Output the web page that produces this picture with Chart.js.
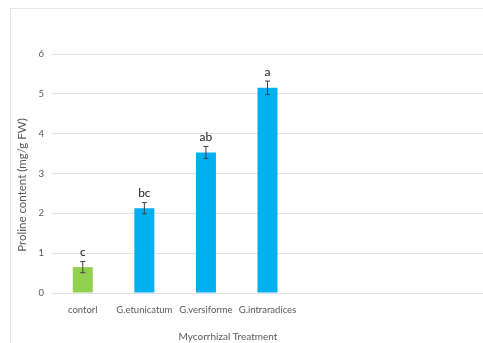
<!DOCTYPE html>
<html>
<head>
<meta charset="utf-8">
<script src="https://cdn.jsdelivr.net/npm/chart.js@4.4.0/dist/chart.umd.min.js"></script>
<style>
  html, body { margin: 0; padding: 0; background: #fff; overflow: hidden; }
  #wrap { position: relative; width: 483px; height: 343px; }
  #frame { position: absolute; left: 10px; top: 8px; width: 490px; height: 350px; border: 1px solid #e6e6e6; box-sizing: border-box; }
</style>
</head>
<body>
<div id="wrap">
  <div id="frame"></div>
  <canvas id="chart" width="483" height="343"></canvas>
</div>
<script>
// treatments (the original axis leaves room for more, kept empty)
const categories = ['contorl', 'G.etunicatum', 'G.versiforme', 'G.intraradices', '', '', ''];
const proline = [0.65, 2.13, 3.53, 5.15, null, null, null];
const errors = [0.14, 0.14, 0.15, 0.17, null, null, null];
const letters = ['c', 'bc', 'ab', 'a', '', '', ''];
const barColors = ['#92D050', '#00B0F0', '#00B0F0', '#00B0F0', '#00B0F0', '#00B0F0', '#00B0F0'];
const yTicks = [0, 1, 2, 3, 4, 5, 6];

const fontFam = 'Lato, "Open Sans", sans-serif';

const extras = {
    id: 'extras',
    afterDatasetsDraw(chart) {
        const { ctx, chartArea } = chart;
        const y = chart.scales.y;
        const meta = chart.getDatasetMeta(0);
        ctx.save();
        meta.data.forEach((bar, i) => {
            if (proline[i] == null) return;
            const top = y.getPixelForValue(proline[i] + errors[i]);
            const bot = y.getPixelForValue(proline[i] - errors[i]);
            ctx.strokeStyle = '#404040';
            ctx.lineWidth = 1;
            ctx.beginPath();
            ctx.moveTo(bar.x, top); ctx.lineTo(bar.x, bot);
            ctx.moveTo(bar.x - 2.5, top); ctx.lineTo(bar.x + 2.5, top);
            ctx.moveTo(bar.x - 2.5, bot); ctx.lineTo(bar.x + 2.5, bot);
            ctx.stroke();
            ctx.fillStyle = '#222';
            ctx.font = '12px ' + fontFam;
            ctx.textAlign = 'center';
            ctx.textBaseline = 'bottom';
            ctx.fillText(letters[i], bar.x, top - 3);
        });
        // axis titles
        ctx.fillStyle = '#595959';
        ctx.font = '10px ' + fontFam;
        ctx.textAlign = 'center';
        ctx.textBaseline = 'middle';
        ctx.fillText('Mycorrhizal Treatment', chartArea.left + 176, 337);
        ctx.font = '11.5px ' + fontFam;
        ctx.translate(22, 185);
        ctx.rotate(-Math.PI / 2);
        ctx.fillText('Proline content (mg/g FW)', 0, 0);
        ctx.restore();
    }
};

new Chart(document.getElementById('chart'), {
    type: 'bar',
    data: {
        labels: categories,
        datasets: [{
            data: proline,
            backgroundColor: barColors,
            borderWidth: 0,
            categoryPercentage: 0.65,
            barPercentage: 0.5
        }]
    },
    options: {
        responsive: false,
        animation: false,
        layout: { padding: { left: 0, right: 0, top: 54, bottom: 0 } },
        plugins: { legend: { display: false }, tooltip: { enabled: false } },
        scales: {
            x: {
                grid: { display: false },
                border: { display: false },
                ticks: { color: '#595959', font: { size: 9.5, family: fontFam }, maxRotation: 0, autoSkip: false, padding: 3 },
                afterFit(s) { s.height = 50; }
            },
            y: {
                min: 0, max: 6,
                afterBuildTicks(s) { s.ticks = yTicks.map(v => ({ value: v })); },
                grid: { color: '#e3e3e3', drawTicks: false },
                border: { display: false },
                ticks: { color: '#595959', font: { size: 9.5, family: fontFam }, padding: 8 },
                afterFit(s) { s.width = 52; }
            }
        }
    },
    plugins: [extras]
});
</script>
</body>
</html>
